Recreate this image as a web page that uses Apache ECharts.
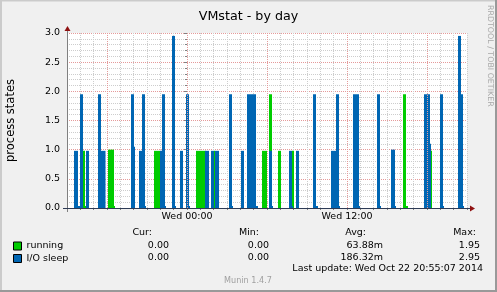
<!DOCTYPE html>
<html><head><meta charset="utf-8">
<script src="https://cdn.jsdelivr.net/npm/echarts@6/dist/echarts.min.js"></script>
<style>html,body{margin:0;padding:0;background:#f0f0f0}#c{width:497px;height:292px}</style>
</head><body><div id="c"></div>
<script>
// ---- data (hours relative to Wed 00:00) ----
const seriesNames = ['running', 'I/O sleep'];
const seriesColors = ['#00CC00', '#0066B3'];
// [startHour, endHour, value]
const runningSpikes = [
  [-7.80, -7.65, 0.98], [-7.65, -7.575, 0.035], [-5.925, -5.475, 1.0], [-5.475, -5.40, 0.035],
  [-2.475, -2.025, 0.98], [0.675, 1.425, 0.98], [2.025, 2.10, 0.98], [5.625, 6.0, 0.98],
  [6.15, 6.375, 1.95], [6.825, 7.05, 0.98], [7.875, 8.025, 0.98],
  [16.2, 16.425, 1.95], [16.425, 16.575, 0.035], [18.3, 18.375, 0.98]
];
const sleepSpikes = [
  [-8.475, -8.175, 0.98], [-8.175, -8.025, 0.035], [-8.025, -7.80, 1.95], [-7.575, -7.35, 0.98],
  [-6.675, -6.45, 1.95], [-6.45, -6.1125, 0.98], [-4.2, -3.975, 1.95],
  [-3.975, -3.9, 1.05], [-3.6, -3.375, 0.98], [-3.375, -3.15, 1.95], [-3.15, -3.075, 0.035],
  [-2.025, -1.875, 0.98], [-1.875, -1.65, 1.95], [-1.65, -1.575, 0.035],
  [-1.125, -0.9, 2.95], [-0.9, -0.825, 0.035],
  [-0.525, -0.3, 0.98], [-0.075, 0.15, 1.95], [0.15, 0.225, 0.035], [1.35, 1.65, 0.98],
  [1.80, 2.025, 0.98], [2.10, 2.40, 0.98], [3.15, 3.375, 1.95], [3.375, 3.45, 0.035],
  [4.05, 4.275, 0.98], [4.50, 5.175, 1.95], [5.175, 5.325, 0.035], [6.15, 6.375, 0.98], [6.375, 6.45, 0.035],
  [7.65, 7.875, 0.98], [7.875, 7.95, 0.035], [8.175, 8.40, 0.98], [9.45, 9.675, 1.95], [9.675, 9.825, 0.035],
  [10.80, 11.175, 0.98], [11.175, 11.40, 1.95], [11.40, 11.475, 0.035], [12.45, 12.90, 1.95], [12.90, 12.975, 0.035],
  [14.25, 14.475, 1.95], [14.475, 14.55, 0.035], [15.30, 15.60, 1.0], [15.60, 15.675, 0.035],
  [17.775, 18.225, 1.95], [18.225, 18.30, 1.1], [18.975, 19.20, 1.95], [19.20, 19.275, 0.035],
  [20.325, 20.55, 2.95], [20.55, 20.70, 1.95], [20.70, 20.775, 0.035]
];
const xMin = -9, xMax = 21;
const xLabelHours = [0, 12];
const xLabelTexts = ['Wed 00:00', 'Wed 12:00'];
const xMajorHours = [-6, 0, 6, 12, 18];
const yMin = 0, yMax = 3, yStep = 0.5;
const statHeaders = ['Cur:', 'Min:', 'Avg:', 'Max:'];
const runningStats = ['0.00', '0.00', '63.88m', '1.95'];
const sleepStats = ['0.00', '0.00', '186.32m', '2.95'];
const titleText = 'VMstat - by day';
const yAxisTitle = 'process states';
const lastUpdate = 'Last update: Wed Oct 22 20:55:07 2014';
const footer = 'Munin 1.4.7';
const watermark = 'RRDTOOL / TOBI OETIKER';

// ---- layout ----
const FONT = 'DejaVu Sans';
const G = {left: 67, top: 33, width: 400, height: 175};
const minorGrid = '#CDCDCD', majorGrid = '#E59A9A';

function spikeRenderer(color) {
  return function (params, api) {
    const s = api.value(0), e = api.value(1), v = api.value(2);
    const p0 = api.coord([s, v]);
    const p1 = api.coord([e, 0]);
    return {
      type: 'rect',
      shape: {x: p0[0], y: p0[1], width: p1[0] - p0[0], height: p1[1] - p0[1]},
      style: {fill: color}
    };
  };
}

const chart = echarts.init(document.getElementById('c'), null, {renderer: 'canvas'});

const statCols = [152, 259, 366, 476];
const valCols = [169, 269, 383, 480];
const graphics = [
  {type: 'rect', shape: {x: 0, y: 0, width: 497, height: 292}, style: {fill: '#F0F0F0'}, z: -10, silent: true},
  {type: 'line', shape: {x1: 0, y1: 0.5, x2: 497, y2: 0.5}, style: {stroke: '#CBCBCB', lineWidth: 2}, z: -9},
  {type: 'line', shape: {x1: 1, y1: 0, x2: 1, y2: 292}, style: {stroke: '#CBCBCB', lineWidth: 2}, z: -9},
  {type: 'line', shape: {x1: 0, y1: 291, x2: 497, y2: 291}, style: {stroke: '#999999', lineWidth: 2}, z: -9},
  {type: 'line', shape: {x1: 496, y1: 0, x2: 496, y2: 292}, style: {stroke: '#999999', lineWidth: 2}, z: -9},
  // axis extensions + arrows
  {type: 'line', shape: {x1: G.left + 0.5, y1: G.top + G.height + 4, x2: G.left + 0.5, y2: G.top - 3}, style: {stroke: '#808080', lineWidth: 1}, z: 5},
  {type: 'line', shape: {x1: G.left - 4, y1: G.top + G.height + 0.5, x2: G.left + G.width + 3, y2: G.top + G.height + 0.5}, style: {stroke: '#2E3B55', lineWidth: 1}, z: 5},
  {type: 'polygon', shape: {points: [[G.left + 0.5, G.top - 7], [G.left - 2.5, G.top - 2], [G.left + 3.5, G.top - 2]]}, style: {fill: '#8F1111'}, z: 6},
  {type: 'polygon', shape: {points: [[G.left + G.width + 8, G.top + G.height + 0.5], [G.left + G.width + 3, G.top + G.height - 2.5], [G.left + G.width + 3, G.top + G.height + 3.5]]}, style: {fill: '#8F1111'}, z: 6},
  {type: 'text', x: 490, y: 5, rotation: -Math.PI / 2, style: {text: watermark, fontFamily: FONT, fontSize: 7.9, fill: '#A8A8A8', align: 'left', verticalAlign: 'middle'}},
  {type: 'text', x: 248, y: 281, style: {text: footer, fontFamily: FONT, fontSize: 8.1, fill: '#A0A0A0', align: 'center', verticalAlign: 'middle'}},
  {type: 'text', x: 483, y: 269, style: {text: lastUpdate, fontFamily: FONT, fontSize: 9.5, fill: '#000', align: 'right', verticalAlign: 'middle'}}
];
statHeaders.forEach((h, i) => graphics.push({type: 'text', x: statCols[i], y: 233, style: {text: h, fontFamily: FONT, fontSize: 9.5, fill: '#000', align: 'right', verticalAlign: 'middle'}}));
runningStats.forEach((h, i) => graphics.push({type: 'text', x: valCols[i], y: 245.5, style: {text: h, fontFamily: FONT, fontSize: 9.5, fill: '#000', align: 'right', verticalAlign: 'middle'}}));
sleepStats.forEach((h, i) => graphics.push({type: 'text', x: valCols[i], y: 257.5, style: {text: h, fontFamily: FONT, fontSize: 9.5, fill: '#000', align: 'right', verticalAlign: 'middle'}}));

const option = {
  animation: false,
  backgroundColor: '#F0F0F0',
  textStyle: {fontFamily: FONT},
  title: {text: titleText, left: 'center', top: 5, textStyle: {fontFamily: FONT, fontSize: 12.7, fontWeight: 'normal', color: '#000'}},
  grid: {left: G.left, top: G.top, width: G.width, height: G.height, show: true, backgroundColor: '#FFFFFF', borderWidth: 0, outerBoundsMode: 'none'},
  legend: {
    orient: 'vertical', left: 13, top: 241, itemWidth: 8, itemHeight: 8, itemGap: 2.5, icon: 'rect',
    data: seriesNames,
    textStyle: {fontFamily: FONT, fontSize: 9.5, color: '#000'},
    itemStyle: {borderColor: '#000', borderWidth: 1},
    selectedMode: false, padding: 0
  },
  xAxis: {
    type: 'value', min: xMin, max: xMax, interval: 1,
    axisLine: {show: false},
    axisTick: {show: true, length: 2, lineStyle: {color: '#808080'}},
    axisLabel: {
      show: true, margin: 4, fontSize: 9.5, color: '#000', fontFamily: FONT,
      formatter: v => { const k = xLabelHours.indexOf(v); return k >= 0 ? xLabelTexts[k] : ''; }
    },
    splitLine: {show: true, lineStyle: {color: minorGrid, type: [1, 1], width: 1}}
  },
  yAxis: {
    type: 'value', min: yMin, max: yMax, interval: yStep,
    name: yAxisTitle, nameLocation: 'middle', nameGap: 50, nameRotate: 90,
    nameTextStyle: {fontFamily: FONT, fontSize: 11.5, color: '#000'},
    axisLine: {show: false},
    axisTick: {show: true, length: 3, lineStyle: {color: '#808080'}},
    minorTick: {show: true, splitNumber: 5, length: 2, lineStyle: {color: '#808080'}},
    axisLabel: {margin: 7, fontSize: 9.5, color: '#000', fontFamily: FONT, formatter: v => v.toFixed(1)},
    splitLine: {show: true, lineStyle: {color: majorGrid, type: [1, 1], width: 1}},
    minorSplitLine: {show: true, lineStyle: {color: minorGrid, type: [1, 1], width: 1}}
  },
  graphic: graphics,
  series: [
    {
      name: '__major', type: 'line', data: [], z: 1, silent: true, symbol: 'none',
      markLine: {silent: true, symbol: 'none', label: {show: false}, animation: false,
        lineStyle: {color: majorGrid, type: [1, 1], width: 1},
        data: xMajorHours.map(h => ({xAxis: h}))}
    },
    {
      name: seriesNames[0], type: 'custom', data: runningSpikes, z: 3,
      encode: {x: [0, 1], y: 2}, color: seriesColors[0], itemStyle: {color: seriesColors[0]},
      renderItem: spikeRenderer(seriesColors[0])
    },
    {
      name: seriesNames[1], type: 'custom', data: sleepSpikes, z: 4,
      encode: {x: [0, 1], y: 2}, color: seriesColors[1], itemStyle: {color: seriesColors[1]},
      renderItem: spikeRenderer(seriesColors[1])
    }
  ]
};
chart.setOption(option);
</script></body></html>
